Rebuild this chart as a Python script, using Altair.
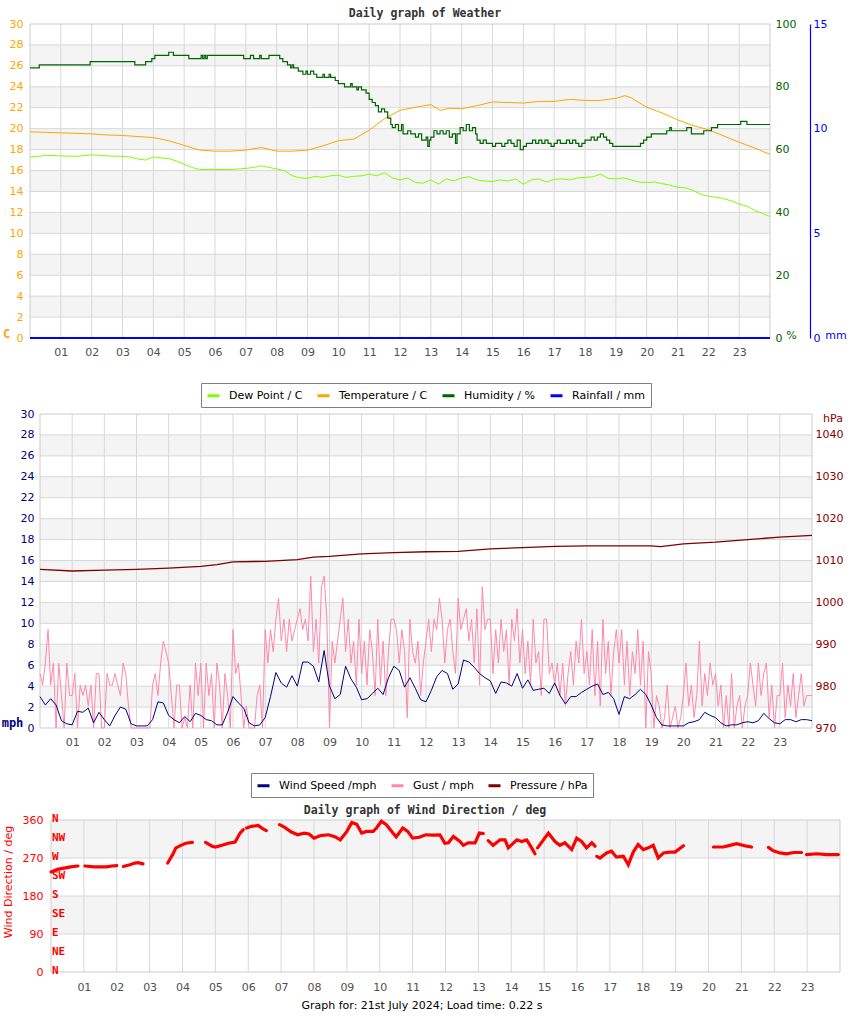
import altair as alt
import pandas as pd

# ------------------------------------------------------------------ data
HOUR_TICKS = list(range(1, 24))

TEMP_HOURS = [0, 0.5, 1, 1.5, 2, 2.5, 3, 3.5, 4, 4.5, 5, 5.5, 6, 6.5, 7, 7.5, 8, 8.5, 9, 9.5,
              10, 10.5, 11, 11.5, 12, 12.5, 13, 13.3, 13.6, 14, 14.5, 15, 15.5, 16, 16.5, 17,
              17.5, 18, 18.5, 19, 19.3, 19.5, 20, 20.5, 21, 21.5, 22, 22.5, 23, 23.5, 24]
TEMP_C = [19.7, 19.65, 19.6, 19.55, 19.5, 19.4, 19.35, 19.25, 19.15, 18.85, 18.4, 17.95, 17.85,
          17.85, 17.95, 18.2, 17.85, 17.85, 17.95, 18.35, 18.85, 19.0, 19.85, 20.95, 21.75, 22.05,
          22.3, 21.75, 21.95, 21.9, 22.2, 22.55, 22.5, 22.45, 22.6, 22.6, 22.8, 22.7, 22.7, 22.9,
          23.15, 22.95, 22.05, 21.5, 20.85, 20.3, 19.9, 19.3, 18.7, 18.15, 17.55]

DEW_HOURS = [0, 0.25, 0.5, 1, 1.5, 2, 2.5, 3, 3.25, 3.5, 3.75, 4, 4.25, 4.5, 4.75, 5, 5.25, 5.5,
             6, 6.5, 7, 7.25, 7.5, 7.75, 8, 8.25,
             8.5, 8.75, 9, 9.25, 9.5, 9.75, 10, 10.25, 10.5, 10.75, 11, 11.25, 11.5, 11.75,
             12, 12.25, 12.5, 12.75, 13, 13.25, 13.5, 13.75, 14, 14.25, 14.5, 14.75,
             15, 15.25, 15.5, 15.75, 16, 16.25, 16.5, 16.75, 17, 17.25, 17.5, 17.75,
             18, 18.25, 18.5, 18.75, 19, 19.25, 19.5, 19.75, 20, 20.25, 20.5, 20.75,
             21, 21.25, 21.5, 21.75, 22, 22.25, 22.5, 22.75, 23, 23.25, 23.5, 23.75, 24]
DEW_C = [17.3, 17.35, 17.45, 17.4, 17.35, 17.5, 17.4, 17.35, 17.3, 17.1, 17.0, 17.3, 17.2, 17.15,
         16.9, 16.6, 16.3, 16.1, 16.1, 16.1, 16.2, 16.3, 16.45, 16.3, 16.15, 16.0,
         15.5, 15.3, 15.25, 15.45, 15.35, 15.5, 15.55, 15.35, 15.45, 15.5, 15.65, 15.5, 15.8, 15.3,
         15.1, 15.3, 14.85, 14.8, 15.1, 14.7, 15.2, 15.0, 15.3, 15.4, 15.1, 15.0,
         14.95, 15.1, 15.0, 15.2, 14.7, 15.1, 15.2, 14.9, 15.15, 15.2, 15.1, 15.3,
         15.35, 15.4, 15.65, 15.25, 15.2, 15.3, 15.1, 14.9, 14.85, 14.9, 14.75, 14.6,
         14.4, 14.35, 14.1, 13.75, 13.55, 13.45, 13.3, 13.1, 12.8, 12.6, 12.2, 11.9, 11.6]

HUM_HOURS = [0, 0.3, 1.95, 3.4, 3.75, 3.95, 4.05, 4.5, 4.65, 5.15, 5.55, 5.6, 5.65, 5.7, 5.75,
             6.93, 7.15, 7.25, 7.45, 7.5, 7.75, 8.1, 8.2, 8.35, 8.45, 8.5, 8.55, 8.7, 8.85, 8.95,
             9.0, 9.1, 9.2, 9.3, 9.5, 9.55, 9.7, 9.75, 9.9, 10.0, 10.2, 10.4, 10.45, 10.6, 10.65,
             10.75, 10.9, 11.0, 11.1, 11.2, 11.3, 11.4, 11.5, 11.6, 11.7, 11.75, 11.85, 11.95,
             12.05, 12.1, 12.25, 12.35, 12.5, 12.6, 12.7, 12.85, 12.9, 12.95, 13.0, 13.1, 13.2,
             13.3, 13.4, 13.5, 13.6, 13.7, 13.8, 13.85, 13.95, 14.05, 14.15, 14.25, 14.35, 14.45,
             14.5, 14.6, 14.7, 14.8, 14.9, 15.0, 15.1, 15.2, 15.3, 15.4, 15.5, 15.6, 15.7, 15.8,
             15.9, 16.0, 16.1, 16.2, 16.3, 16.4, 16.5, 16.6, 16.7, 16.8, 16.9, 17.0, 17.1, 17.2,
             17.3, 17.4, 17.5, 17.6, 17.7, 17.8, 17.9, 18.0, 18.1, 18.2, 18.3, 18.4, 18.5, 18.6,
             18.7, 18.8, 18.9, 19.8, 19.9, 20.0, 20.15, 20.65, 20.75, 20.8, 21.3, 21.45, 21.85,
             22.1, 22.3, 23.05, 23.25, 24]
HUM_PCT = [86, 87, 88, 87, 88, 89, 90, 91, 90, 89, 90, 89, 90, 89, 90,
           89, 90, 89, 90, 89, 90, 89, 88, 87, 86, 87, 86, 85, 84, 85,
           84, 85, 84, 83, 84, 83, 84, 83, 82, 81, 80, 81, 80, 79, 80,
           79, 78, 76, 75, 74, 72, 73, 72, 70, 68, 67, 68, 66,
           68, 65, 66, 65, 64, 65, 63, 64, 61, 63, 64, 66, 65,
           66, 65, 66, 64, 65, 62, 65, 67, 66, 68, 66, 67, 65,
           63, 62, 63, 62, 62, 61, 62, 62, 61, 62, 63, 62, 61, 63,
           60, 61, 62, 62, 63, 62, 63, 62, 63, 62, 61, 62, 63, 62,
           62, 63, 62, 63, 62, 61, 62, 63, 63, 64, 63, 64, 65, 64,
           63, 62, 61, 62, 63, 64, 65, 66, 67, 66, 67, 65, 66,
           67, 68, 69, 68, 68]

RAIN_HOURS = [0, 24]
RAIN_MM = [0, 0]

PRES_HOURS = [0, 1, 2, 3, 4, 5, 5.5, 6, 7, 8, 8.5, 9, 10, 11, 12, 13, 14, 15, 16, 17, 18, 19,
              19.3, 20, 21, 22, 23, 24]
PRES_HPA = [1007.9, 1007.5, 1007.7, 1007.9, 1008.2, 1008.6, 1009.0, 1009.7, 1009.8, 1010.2,
            1010.8, 1011.0, 1011.6, 1011.9, 1012.1, 1012.2, 1012.8, 1013.1, 1013.4, 1013.5,
            1013.5, 1013.5, 1013.3, 1014.0, 1014.4, 1015.0, 1015.6, 1016.0]

# wind speed, one reading every 10 minutes
WIND_MPH = [
    3.0, 2.2, 2.8, 2.2, 0.7, 0.4,
    0.3, 1.6, 1.5, 1.9, 0.5, 1.5,
    0.8, 0.2, 1.2, 2.0, 1.8, 0.4,
    0.2, 0.2, 0.2, 0.8, 2.5, 2.4,
    1.2, 0.8, 0.5, 1.1, 0.6, 1.4,
    1.2, 0.8, 0.7, 0.3, 0.3, 1.5,
    3.0, 2.4, 1.9, 0.5, 0.2, 0.3,
    1.0, 3.0, 5.3, 4.3, 3.9, 5.0,
    4.0, 6.3, 6.3, 5.9, 4.4, 7.4,
    4.0, 2.8, 3.2, 5.9, 4.7, 3.9,
    2.7, 2.8, 3.3, 3.8, 3.2, 4.8,
    5.9, 5.5, 3.9, 4.8, 3.8, 2.7,
    2.5, 3.6, 4.9, 5.5, 5.2, 3.7,
    4.2, 6.5, 6.3, 5.8, 5.2, 4.8,
    4.5, 3.3, 4.4, 4.3, 4.0, 5.2,
    3.8, 4.6, 3.6, 3.7, 3.8, 3.3,
    4.3, 3.1, 2.3, 3.0, 3.0, 3.4,
    3.7, 4.0, 4.2, 3.2, 3.4, 2.8,
    1.3, 3.0, 2.8, 3.2, 3.7, 3.2,
    2.2, 1.0, 0.3, 0.2, 0.2, 0.2,
    0.2, 0.5, 0.6, 0.8, 1.5, 1.2,
    1.0, 0.5, 0.2, 0.3, 0.3, 0.5,
    0.6, 0.5, 0.7, 1.4, 0.9, 0.5,
    0.4, 0.8, 0.8, 0.6, 0.8, 0.8,
    0.7]

# gust, one reading every 5 minutes
GUST_MPH = [
    5.2, 4.1, 6.2, 9.4, 4.1, 6.2, 0, 6.2, 3.1, 0, 6.2, 3.1,
    3.1, 5.2, 0, 4.1, 3.1, 4.1, 2.1, 4.1, 0, 5.2, 5.2, 0,
    0, 5.2, 4.1, 4.1, 5.2, 4.1, 3.1, 6.2, 5.2, 2.1, 0, 0,
    0, 0, 0, 0, 0, 0, 4.1, 5.2, 3.1, 6.2, 8.3, 7.3,
    6.2, 3.1, 0, 4.1, 4.1, 0, 1.0, 0, 4.1, 0, 6.2, 3.1,
    6.2, 0, 6.2, 3.1, 5.2, 0, 6.2, 4.1, 0, 5.2, 3.1, 0,
    9.4, 5.2, 6.2, 3.1, 0, 2.1, 0, 0, 0, 3.1, 4.1, 0,
    9.4, 6.2, 9.4, 7.3, 10.4, 12.4, 8.3, 10.4, 7.3, 10.4, 8.3, 9.4,
    10.4, 11.4, 9.4, 10.4, 8.3, 14.5, 7.3, 10.4, 6.2, 13.5, 14.5, 10.4,
    0, 8.3, 6.2, 8.3, 10.4, 12.4, 7.3, 10.4, 6.2, 8.3, 4.1, 10.4,
    5.2, 8.3, 4.1, 9.4, 7.3, 3.1, 10.4, 4.1, 8.3, 3.1, 7.3, 10.4,
    10.4, 9.4, 6.2, 9.4, 7.3, 1.0, 10.4, 7.3, 6.2, 8.3, 3.1, 6.2,
    8.3, 10.4, 7.3, 10.4, 9.4, 12.4, 10.4, 6.2, 9.4, 10.4, 7.3, 5.2,
    12.4, 9.4, 10.4, 11.4, 8.3, 10.4, 6.2, 11.4, 4.1, 13.5, 9.4, 10.4,
    10.4, 5.2, 9.4, 6.2, 10.4, 7.3, 9.4, 4.1, 10.4, 8.3, 11.4, 6.2,
    9.4, 5.2, 8.3, 4.1, 10.4, 6.2, 7.3, 3.1, 10.4, 10.4, 5.2, 6.2,
    4.1, 6.2, 3.1, 6.2, 2.1, 5.2, 7.3, 4.1, 8.3, 6.2, 10.4, 5.2,
    7.3, 4.1, 9.4, 3.1, 8.3, 2.1, 10.4, 5.2, 8.3, 3.1, 7.3, 9.4,
    6.2, 9.4, 4.1, 8.3, 3.1, 7.3, 5.2, 9.4, 4.1, 8.3, 0, 7.3,
    5.2, 0, 3.1, 2.1, 0, 1.0, 4.1, 0, 1.0, 2.1, 0, 1.0,
    3.1, 6.2, 2.1, 4.1, 1.0, 3.1, 8.3, 2.1, 5.2, 3.1, 6.2, 4.1,
    5.2, 2.1, 4.1, 0, 3.1, 0, 5.2, 0, 2.1, 3.1, 0, 2.1,
    3.1, 6.2, 4.1, 2.1, 6.2, 3.1, 5.2, 6.2, 1.0, 4.1, 0, 3.1,
    3.1, 6.2, 1.0, 4.1, 2.1, 5.2, 1.0, 3.1, 5.2, 2.1, 3.1, 3.1,
    3.1]

# wind direction: separate traces (gaps between them)
DIR_SEG_HOURS = [
    [0.0, 0.2, 0.4, 0.6, 0.82],
    [1.03, 1.3, 1.5, 1.7, 1.85, 2.0],
    [2.2, 2.4, 2.55, 2.65, 2.8],
    [3.55, 3.7, 3.8, 3.95, 4.1, 4.3],
    [4.7, 4.9, 5.0, 5.2, 5.4, 5.6, 5.75, 5.85],
    [5.95, 6.1, 6.3, 6.45, 6.55],
    [6.95, 7.1, 7.3, 7.5, 7.7, 7.85, 8.0, 8.2, 8.45, 8.65, 8.8, 9.0, 9.15, 9.3, 9.45, 9.6,
     9.8, 9.9, 10.05, 10.2, 10.4, 10.5, 10.7, 10.85, 11.0, 11.2, 11.4, 11.6, 11.83, 11.98,
     12.09, 12.24, 12.44, 12.54, 12.69, 12.9, 13.03, 13.15],
    [13.3, 13.45, 13.66, 13.81, 13.91, 14.17, 14.32, 14.47, 14.62, 14.72],
    [14.8, 14.98, 15.13, 15.33, 15.48, 15.63, 15.84, 15.99, 16.14, 16.29, 16.45, 16.55],
    [16.6, 16.7, 16.9, 17.05, 17.2, 17.41, 17.56, 17.71, 17.86, 18.02, 18.17, 18.32, 18.47,
     18.63, 18.83, 18.98, 19.24],
    [20.15, 20.45, 20.65, 20.85, 21.16, 21.31],
    [21.82, 21.97, 22.17, 22.38, 22.58, 22.83],
    [22.98, 23.29, 23.59, 23.95],
]
DIR_SEG_DEG = [
    [237, 243, 246, 249, 251],
    [251, 249, 249, 249, 251, 252],
    [250, 254, 258, 259, 256],
    [258, 278, 294, 300, 305, 307],
    [307, 298, 296, 300, 305, 308, 329, 337],
    [341, 345, 347, 339, 335],
    [349, 343, 332, 325, 329, 327, 317, 323, 325, 320, 313, 333, 354, 350, 329, 333,
     333, 341, 357, 349, 329, 320, 341, 333, 317, 319, 325, 324, 325, 305,
     306, 321, 309, 300, 306, 306, 329, 328],
    [311, 300, 313, 313, 294, 313, 309, 313, 294, 280],
    [294, 313, 329, 309, 300, 306, 290, 317, 309, 294, 306, 298],
    [274, 270, 282, 286, 272, 274, 254, 284, 302, 290, 294, 300, 270, 282, 284, 284, 299],
    [296, 296, 300, 304, 298, 296],
    [295, 287, 282, 280, 283, 283],
    [278, 280, 278, 278],
]

COMPASS_DEG = [0, 45, 90, 135, 180, 225, 270, 315, 360]
COMPASS_TXT = ["N", "NE", "E", "SE", "S", "SW", "W", "NW", "N"]

C_TICKS = list(range(0, 31, 2))
HUM_TICKS = [0, 20, 40, 60, 80, 100]
RAIN_TICKS = [0, 5, 10, 15]
PRES_TICKS = list(range(970, 1041, 10))
DIR_TICKS = [0, 90, 180, 270, 360]

SER1 = ["Dew Point / C", "Temperature / C", "Humidity / %", "Rainfall / mm"]
COL1 = ["#80ff00", "#ffa500", "#006400", "#0000ff"]
SER2 = ["Wind Speed /mph", "Gust / mph", "Pressure / hPa"]
COL2 = ["#000080", "#ff88aa", "#800000"]

# ------------------------------------------------------------------ style / layout
FONT = "DejaVu Sans"
MONO = "DejaVu Sans Mono"
BAND = "#f4f4f4"
GRID = "#d8d8d8"
FRAME = "#cccccc"
FULL_W = 850

# plot rectangles: left, right (pixels inside an 850 wide row)
P1 = (30, 770)
P2 = (40, 812)
P3 = (51, 840)


def hour_axis(**extra):
    d = dict(values=HOUR_TICKS, labelExpr="(datum.value < 10 ? '0' : '') + datum.value",
             grid=False, ticks=False, domain=False, labelFont=FONT, labelFontSize=11,
             labelColor="#505050", labelPadding=8, labelFlush=False, title=None)
    d.update(extra)
    return alt.Axis(**d)


def y_axis(**extra):
    d = dict(grid=False, ticks=False, domain=False, labelFont=FONT, labelFontSize=11,
             labelFlush=False, labelBound=False, format="d")
    d.update(extra)
    return alt.Axis(**d)


def legend(x, y):
    return alt.Legend(orient="none", legendX=x, legendY=y, direction="horizontal", title=None,
                      symbolType="stroke", symbolStrokeWidth=3, symbolSize=144,
                      labelFont=FONT, labelFontSize=11, labelColor="#000000", labelOffset=8,
                      columnPadding=8, padding=5, strokeColor="#808080", fillColor="#ffffff")


def background(xs, ys, xax, yax, lo, hi, grid_vals, ymin, ymax):
    bands = pd.DataFrame({"lo": lo, "hi": hi, "x0": [0] * len(lo), "x1": [24] * len(lo)})
    b = alt.Chart(bands).mark_rect(color=BAND).encode(
        x=alt.X("x0:Q", scale=xs, axis=xax), x2="x1:Q",
        y=alt.Y("lo:Q", scale=ys, axis=yax), y2="hi:Q")
    hg = alt.Chart(pd.DataFrame({"v": grid_vals, "x0": [0] * len(grid_vals),
                                 "x1": [24] * len(grid_vals)})).mark_rule(color=GRID).encode(
        x=alt.X("x0:Q", scale=xs, axis=xax), x2="x1:Q",
        y=alt.Y("v:Q", scale=ys, axis=yax))
    vg = alt.Chart(pd.DataFrame({"h": HOUR_TICKS, "y0": [ymin] * 23,
                                 "y1": [ymax] * 23})).mark_rule(color=GRID).encode(
        x=alt.X("h:Q", scale=xs, axis=xax),
        y=alt.Y("y0:Q", scale=ys, axis=yax), y2="y1:Q")
    fr = alt.Chart(pd.DataFrame({"x0": [0], "x1": [24], "y0": [ymin], "y1": [ymax]})).mark_rect(
        fillOpacity=0, stroke=FRAME, strokeWidth=1).encode(
        x=alt.X("x0:Q", scale=xs, axis=xax), x2="x1:Q",
        y=alt.Y("y0:Q", scale=ys, axis=yax), y2="y1:Q")
    return [b, hg, vg, fr]


def spacer(h):
    return alt.Chart(pd.DataFrame({"v": [0]})).mark_point(opacity=0, size=1).encode(
        x=alt.value(5), y=alt.value(min(5, h / 2))).properties(width=10, height=h)


# ------------------------------------------------------------------ panel 1
xs1 = alt.Scale(domain=[0, 24], nice=False, zero=False, range=list(P1))
ys1 = alt.Scale(domain=[0, 30], nice=False, zero=False)
col1 = alt.Scale(domain=SER1, range=COL1)
leg1 = legend(201, 359)
xax1 = hour_axis()

left1 = y_axis(values=C_TICKS, labelColor="#ffa500", labelPadding=7, offset=-P1[0],
               title="C", titleColor="#ffa500", titleFont=MONO, titleFontWeight="bold",
               titleFontSize=12, titleAngle=0, titleX=-24, titleY=309,
               titleAlign="center", titleBaseline="middle")

td = pd.concat([
    pd.DataFrame({"h": DEW_HOURS, "v": DEW_C, "s": SER1[0]}),
    pd.DataFrame({"h": TEMP_HOURS, "v": TEMP_C, "s": SER1[1]}),
])
tlines = alt.Chart(td).mark_line(strokeWidth=1).encode(
    x=alt.X("h:Q", scale=xs1, axis=xax1),
    y=alt.Y("v:Q", scale=ys1, axis=left1),
    color=alt.Color("s:N", scale=col1, legend=leg1),
    detail="s:N")

inner1 = alt.layer(*background(xs1, ys1, xax1, left1,
                               list(range(2, 30, 4)), list(range(4, 31, 4)),
                               list(range(2, 30, 2)), 0, 30), tlines)

hum = alt.Chart(pd.DataFrame({"h": HUM_HOURS, "v": HUM_PCT, "s": SER1[2]})).mark_line(
    strokeWidth=1.2, interpolate="step-after").encode(
    x=alt.X("h:Q", scale=xs1, axis=xax1),
    y=alt.Y("v:Q", scale=alt.Scale(domain=[0, 100], nice=False, zero=False),
            axis=y_axis(orient="right", offset=-(FULL_W - P1[1]), values=HUM_TICKS,
                        labelColor="#006400", labelPadding=5,
                        title="%", titleColor="#006400", titleFont=FONT, titleFontWeight="normal",
                        titleFontSize=11, titleAngle=0, titleX=21, titleY=311,
                        titleAlign="center", titleBaseline="middle")),
    color=alt.Color("s:N", scale=col1, legend=leg1))

rain = alt.Chart(pd.DataFrame({"h": RAIN_HOURS, "v": RAIN_MM, "s": SER1[3]})).mark_line(
    strokeWidth=2).encode(
    x=alt.X("h:Q", scale=xs1, axis=xax1),
    y=alt.Y("v:Q", scale=alt.Scale(domain=[0, 15], nice=False, zero=False),
            axis=y_axis(orient="right", offset=-(FULL_W - P1[1] - 40), values=RAIN_TICKS,
                        labelColor="#0000ff",
                        labelPadding=3, domain=True, domainColor="#0000ff", domainWidth=1.2,
                        title="mm", titleColor="#0000ff", titleFont=FONT, titleFontWeight="normal",
                        titleFontSize=11, titleAngle=0, titleX=25.5, titleY=311,
                        titleAlign="center", titleBaseline="middle")),
    color=alt.Color("s:N", scale=col1, legend=leg1))

panel1 = alt.layer(inner1, hum, rain).resolve_scale(y="independent").properties(
    width=FULL_W, height=314,
    title=alt.TitleParams("Daily graph of Weather", font=MONO, fontSize=11.5, fontWeight="bold",
                          color="#333333", anchor="middle", offset=8, dy=18, frame="group",
                          baseline="alphabetic"))

# ------------------------------------------------------------------ panel 2
xs2 = alt.Scale(domain=[0, 24], nice=False, zero=False, range=list(P2))
ys2 = alt.Scale(domain=[0, 30], nice=False, zero=False)
col2 = alt.Scale(domain=SER2, range=COL2)
leg2 = legend(251, 359)
xax2 = hour_axis()

left2 = y_axis(values=C_TICKS, labelColor="#000080", labelPadding=6, offset=-P2[0],
               title="mph", titleColor="#000080", titleFont=MONO, titleFontWeight="bold",
               titleFontSize=12, titleAngle=0, titleX=-28, titleY=308,
               titleAlign="center", titleBaseline="middle")

gust = alt.Chart(pd.DataFrame({"h": [i / 12 for i in range(len(GUST_MPH))], "v": GUST_MPH,
                               "s": SER2[1]})).mark_line(strokeWidth=1).encode(
    x=alt.X("h:Q", scale=xs2, axis=xax2),
    y=alt.Y("v:Q", scale=ys2, axis=left2),
    color=alt.Color("s:N", scale=col2, legend=leg2))
wind = alt.Chart(pd.DataFrame({"h": [i / 6 for i in range(len(WIND_MPH))], "v": WIND_MPH,
                               "s": SER2[0]})).mark_line(strokeWidth=1).encode(
    x=alt.X("h:Q", scale=xs2, axis=xax2),
    y=alt.Y("v:Q", scale=ys2, axis=left2),
    color=alt.Color("s:N", scale=col2, legend=leg2))

inner2 = alt.layer(*background(xs2, ys2, xax2, left2,
                               list(range(2, 30, 4)), list(range(4, 31, 4)),
                               list(range(2, 30, 2)), 0, 30), gust, wind)

pres = alt.Chart(pd.DataFrame({"h": PRES_HOURS, "v": PRES_HPA, "s": SER2[2]})).mark_line(
    strokeWidth=1.3).encode(
    x=alt.X("h:Q", scale=xs2, axis=xax2),
    y=alt.Y("v:Q", scale=alt.Scale(domain=[970, 1045], nice=False, zero=False),
            axis=y_axis(orient="right", offset=-(FULL_W - P2[1]), values=PRES_TICKS,
                        labelColor="#8b0000", labelPadding=3,
                        title="hPa", titleColor="#8b0000", titleFont=FONT, titleFontWeight="normal",
                        titleFontSize=11, titleAngle=0, titleX=20.5, titleY=4,
                        titleAlign="center", titleBaseline="middle")),
    color=alt.Color("s:N", scale=col2, legend=leg2))

panel2 = alt.layer(inner2, pres).resolve_scale(y="independent").properties(
    width=FULL_W, height=314)

# ------------------------------------------------------------------ panel 3
xs3 = alt.Scale(domain=[0, 24], nice=False, zero=False, range=list(P3))
ys3 = alt.Scale(domain=[0, 360], nice=False, zero=False)

left3 = y_axis(values=DIR_TICKS, labelColor="#ff0000", labelPadding=8, offset=-P3[0],
               title="Wind Direction / deg", titleColor="#ff0000", titleFont=FONT,
               titleFontWeight="normal", titleFontSize=11, titleAngle=270, titleX=-43,
               titleY=61.5, titleAlign="center", titleBaseline="middle")
xax3 = hour_axis(labelPadding=9, title="Graph for: 21st July 2024; Load time: 0.22 s",
                 titleFont=FONT, titleFontSize=11, titleFontWeight="normal",
                 titleColor="#000000", titleX=421.5, titleY=33, titleAlign="center",
                 titleBaseline="middle")

drows = []
for k, (hs, ds) in enumerate(zip(DIR_SEG_HOURS, DIR_SEG_DEG)):
    for hh, dd in zip(hs, ds):
        drows.append({"h": hh, "d": dd, "seg": k})
ddf = pd.DataFrame(drows)

dline = alt.Chart(ddf).mark_line(color="#ff0000", strokeWidth=3.2, strokeCap="round").encode(
    x=alt.X("h:Q", scale=xs3, axis=xax3),
    y=alt.Y("d:Q", scale=ys3, axis=left3),
    detail="seg:N")

compass = alt.Chart(pd.DataFrame({"d": COMPASS_DEG, "t": COMPASS_TXT, "h": [0] * 9})).mark_text(
    align="left", baseline="middle", font=MONO, fontWeight="bold", fontSize=11,
    color="#ff0000", dx=1, dy=-1.5).encode(
    x=alt.X("h:Q", scale=xs3, axis=xax3),
    y=alt.Y("d:Q", scale=ys3, axis=left3), text="t:N")

panel3 = alt.layer(*background(xs3, ys3, xax3, left3, [90, 270], [180, 360],
                               [90, 180, 270], 0, 360), dline, compass).properties(
    width=FULL_W, height=152,
    title=alt.TitleParams("Daily graph of Wind Direction / deg", font=MONO, fontSize=11.5,
                          fontWeight="bold", color="#333333", anchor="middle",
                          offset=7.5, dy=20.5, frame="group", baseline="alphabetic"))

# ------------------------------------------------------------------ assemble
chart = alt.vconcat(
    spacer(24), panel1, spacer(76), panel2, spacer(92), panel3, spacer(45),
    spacing=0, bounds="flush", padding=0,
).resolve_scale(color="independent").configure_view(strokeWidth=0)

chart.save("out.html", embed_options={"renderer": "svg", "actions": False})
